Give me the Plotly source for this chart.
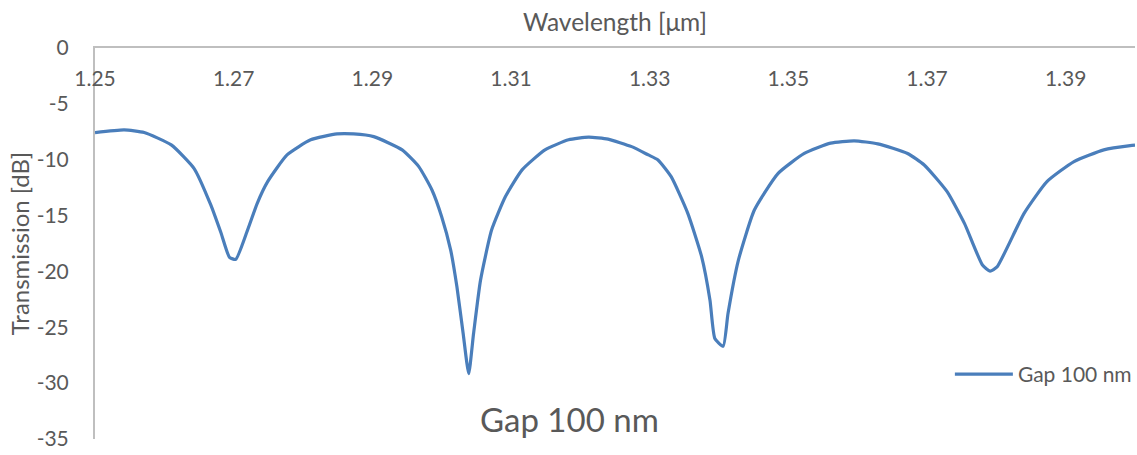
import plotly.graph_objects as go

# Wavelength [um] and transmission [dB]
wavelength = [1.2500, 1.2542, 1.2571, 1.2610, 1.2643, 1.2667, 1.2682, 1.2694, 1.2703,
              1.2720, 1.2734, 1.2749, 1.2777, 1.2811, 1.2849, 1.2873, 1.2902, 1.2943,
              1.2967, 1.2986, 1.3000, 1.3013, 1.3022, 1.3031, 1.3039, 1.3046, 1.3056,
              1.3072, 1.3092, 1.3116, 1.3149, 1.3183, 1.3212, 1.3240, 1.3274, 1.3298,
              1.3312, 1.3331, 1.3355, 1.3375, 1.3387, 1.3394, 1.3406, 1.3413, 1.3428,
              1.3451, 1.3485, 1.3523, 1.3561, 1.3595, 1.3629, 1.3672, 1.3696, 1.3729,
              1.3754, 1.3780, 1.3791, 1.3801, 1.3840, 1.3873, 1.3912, 1.3955, 1.3993,
              1.4000]
transmission = [-7.57, -7.33, -7.57, -8.67, -10.79, -14.05, -16.6, -18.74, -18.92,
                -16.3, -13.9, -11.96, -9.57, -8.22, -7.69, -7.69, -7.93, -9.12,
                -10.62, -12.71, -15.1, -18.09, -21.38, -25.56, -29.15, -25.56, -20.8,
                -16.3, -13.3, -10.91, -9.12, -8.22, -7.98, -8.16, -8.83, -9.57,
                -10.02, -11.52, -14.8, -18.69, -22.57, -26.0, -26.7, -23.77, -18.99,
                -14.5, -11.24, -9.44, -8.52, -8.31, -8.58, -9.44, -10.47, -12.86,
                -15.7, -19.43, -19.97, -19.6, -14.8, -11.96, -10.17, -9.12, -8.74,
                -8.7]

x_ticks = [1.25, 1.27, 1.29, 1.31, 1.33, 1.35, 1.37, 1.39]
x_tick_labels = ["1.25", "1.27", "1.29", "1.31", "1.33", "1.35", "1.37", "1.39"]
y_ticks = [0, -5, -10, -15, -20, -25, -30, -35]
y_tick_labels = ["0", "-5", "-10", "-15", "-20", "-25", "-30", "-35"]
series_name = "Gap 100 nm"
chart_title = "Gap 100 nm"

TEXT = "#595959"
AXIS = "#BFBFBF"
FONT = "Lato"

fig = go.Figure()
fig.add_trace(go.Scatter(
    x=wavelength, y=transmission, mode="lines", name=series_name,
    line=dict(color="#4A7EBB", width=3.2, shape="spline", smoothing=0.5),
))
# empty helper trace so the tick-label axis (x2) is drawn
fig.add_trace(go.Scatter(x=[], y=[], xaxis="x2", yaxis="y", showlegend=False,
                         hoverinfo="skip"))

fig.update_layout(
    width=1137, height=455,
    margin=dict(l=95, r=0, t=48, b=16),
    paper_bgcolor="white", plot_bgcolor="white",
    font=dict(family=FONT, size=21, color=TEXT),
    showlegend=True,
    legend=dict(x=0.822, y=0.165, xanchor="left", yanchor="middle",
                bgcolor="rgba(0,0,0,0)", font=dict(size=21, color=TEXT),
                itemwidth=58),
    annotations=[dict(text=chart_title, xref="paper", yref="paper",
                      x=0.456, y=0.05, xanchor="center", yanchor="middle",
                      showarrow=False, font=dict(size=33, color=TEXT))],
    xaxis=dict(
        range=[1.25, 1.40], side="top", showticklabels=False, ticks="",
        showline=True, linecolor=AXIS, linewidth=2, showgrid=False, zeroline=False,
        title=dict(text="Wavelength [μm]", standoff=7, font=dict(size=24.5, color=TEXT)),
    ),
    xaxis2=dict(
        range=[1.25, 1.40], matches="x", overlaying="x", anchor="free", position=0.893,
        side="top", tickvals=x_ticks, ticktext=x_tick_labels, ticks="",
        showline=False, showgrid=False, zeroline=False,
    ),
    yaxis=dict(
        range=[-35, 0], tickvals=y_ticks, ticktext=y_tick_labels, ticks="",
        ticklabelstandoff=20, showline=True, linecolor=AXIS, linewidth=2,
        showgrid=False, zeroline=False,
        title=dict(text="Transmission [dB]", standoff=0, font=dict(size=24, color=TEXT)),
    ),
)

fig.write_html("out.html", config={"displayModeBar": False},
               post_script="document.body.style.margin='0';")
